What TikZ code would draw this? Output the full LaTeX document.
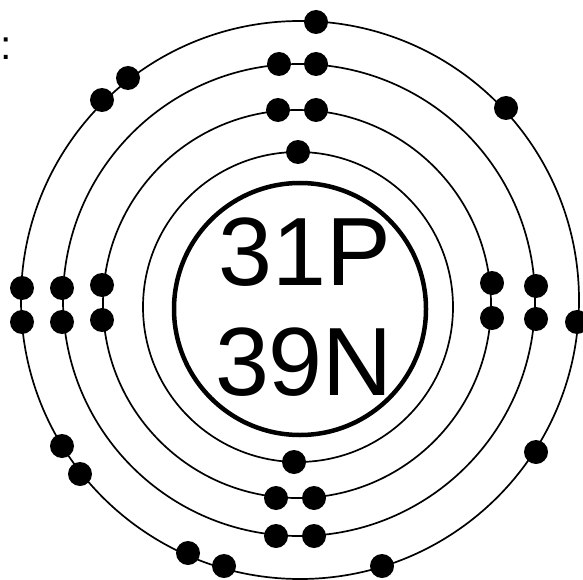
\documentclass[tikz,border=0pt]{standalone}
\usepackage{fontspec}
\setmainfont{Liberation Sans}
\begin{document}
\begin{tikzpicture}[x=1pt,y=-1pt,
  orbit/.style={line width=1.7pt},
  nucleus/.style={line width=4.5pt},
  electron/.style={circle, fill=black, minimum size=24pt, inner sep=0pt},
  bigtext/.style={anchor=base, inner sep=0pt, font=\fontsize{97}{110}\selectfont}]
\useasboundingbox (0,0) rectangle (583,580);
% orbits
\draw[orbit] (300,300) circle[radius=279pt];
\draw[orbit] (299,300) circle[radius=236pt];
\draw[orbit] (297,304) circle[radius=194pt];
\draw[orbit] (298,307) circle[radius=155pt];
\draw[nucleus] (300,309) circle[radius=126pt];
% nucleus text
\node[bigtext] (p) at (305,285) {31P};
\node[bigtext] (n) at (304,395) {39N};
% colon
\node[anchor=base west, inner sep=0pt, font=\fontsize{41}{41}\selectfont] (colon) at (0,60) {:};
% shell 1
\node[electron] (a1) at (298,152) {};
\node[electron] (a2) at (294,462) {};
% shell 2
\node[electron] (b1) at (278,110) {};
\node[electron] (b2) at (316,110) {};
\node[electron] (b3) at (276,498) {};
\node[electron] (b4) at (314,498) {};
\node[electron] (b5) at (102,285) {};
\node[electron] (b6) at (102,320) {};
\node[electron] (b7) at (492,283) {};
\node[electron] (b8) at (492,318) {};
% shell 3
\node[electron] (c1) at (279,64) {};
\node[electron] (c2) at (316,64) {};
\node[electron] (c3) at (276,536) {};
\node[electron] (c4) at (314,536) {};
\node[electron] (c5) at (62,288) {};
\node[electron] (c6) at (62,322) {};
\node[electron] (c7) at (536,286) {};
\node[electron] (c8) at (536,319) {};
% shell 4
\node[electron] (d1) at (316,22) {};
\node[electron] (d2) at (128,78) {};
\node[electron] (d3) at (102,100) {};
\node[electron] (d4) at (506,108) {};
\node[electron] (d5) at (22,288) {};
\node[electron] (d6) at (22,322) {};
\node[electron] (d7) at (577,322) {};
\node[electron] (d8) at (62,446) {};
\node[electron] (d9) at (80,474) {};
\node[electron] (d10) at (188,553) {};
\node[electron] (d11) at (224,566) {};
\node[electron] (d12) at (382,566) {};
\node[electron] (d13) at (536,452) {};
\end{tikzpicture}
\end{document}
